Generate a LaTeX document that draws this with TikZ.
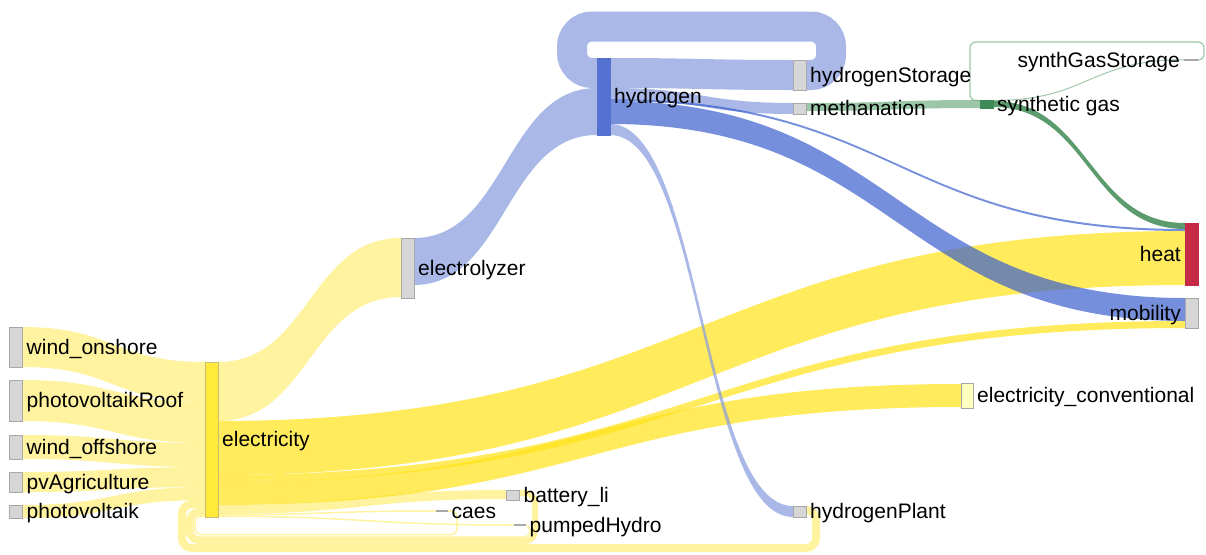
\documentclass[tikz,border=0pt]{standalone}
\usepackage{fontspec}
\setmainfont{Liberation Sans}
\usetikzlibrary{calc}

\definecolor{lyellow}{HTML}{FFEE77}
\definecolor{syellow}{HTML}{FFE216}
\definecolor{lblue}{HTML}{869ADE}
\definecolor{mblue}{HTML}{3A60CD}
\definecolor{lgreen}{HTML}{72AE83}
\definecolor{mgreen}{HTML}{167030}
\definecolor{boxfill}{HTML}{D6D6D6}
\definecolor{boxline}{HTML}{A8A8A8}

% band between two nodes: source, offset, target, offset, width, style
\newcommand\flowband[6]{%
  \fill[#6] let \p1=($(#1.north east)+(0,#2)$), \p2=($(#3.north west)+(0,#4)$),
    \p3=($(\p1)!0.5!(\p2)$) in
    (\p1) .. controls (\x3,\y1) and (\x3,\y2) .. (\p2)
    -- ($(\p2)+(0,#5)$) .. controls (\x3,\y2-#5pt) and (\x3,\y1-#5pt) .. ($(\p1)+(0,#5)$) -- cycle;}

\begin{document}
\begin{tikzpicture}[x=1pt,y=-1pt,
    every label/.style={font=\fontsize{21pt}{24pt}\selectfont,inner sep=0pt,
      text height=19.6pt,text depth=5pt},
    label distance=4pt,
    gray node/.style={rectangle,draw=boxline,fill=boxfill,line width=0.8pt,
      minimum width=13pt,inner sep=0pt,outer sep=0pt},
    thin node/.style={rectangle,fill=boxline,minimum width=12pt,minimum height=1.5pt,
      inner sep=0pt,outer sep=0pt},
    lyflow/.style={fill=lyellow,fill opacity=0.7},
    syflow/.style={fill=syellow,fill opacity=0.7},
    lbflow/.style={fill=lblue,fill opacity=0.7},
    bflow/.style={fill=mblue,fill opacity=0.7},
    lgflow/.style={fill=lgreen,fill opacity=0.7},
    gflow/.style={fill=mgreen,fill opacity=0.7},
    loopband/.style={draw opacity=0.7,rounded corners=10pt}]

  \useasboundingbox (0,0) rectangle (1206,554);

  % nodes (drawn first as coordinates, painted again on top below)
  \path
    (16,347) node[gray node,minimum height=40pt] (won) {}
    (16,400.5) node[gray node,minimum height=41pt] (pvroof) {}
    (16,447) node[gray node,minimum height=24pt] (woff) {}
    (16,482) node[gray node,minimum height=20pt] (pvagr) {}
    (16,511.5) node[gray node,minimum height=13pt] (pv) {}
    (211.5,439.5) node[gray node,minimum height=155pt] (elec) {}
    (407.5,268) node[gray node,minimum height=60pt] (elyz) {}
    (603.5,96.5) node[gray node,minimum height=77pt] (htwo) {}
    (799.5,75) node[gray node,minimum height=30pt] (hstor) {}
    (799.5,108.5) node[gray node,minimum height=11pt] (meth) {}
    (986.5,104) node[gray node,minimum height=8pt] (sgas) {}
    (1191,60) node[thin node,minimum width=14pt] (sgstor) {}
    (1191.5,254) node[gray node,minimum height=62pt] (heat) {}
    (1191.5,313) node[gray node,minimum height=30pt] (mob) {}
    (967,395.5) node[gray node,minimum width=12pt,minimum height=25pt] (econv) {}
    (513,495) node[gray node,minimum height=10pt] (batt) {}
    (441.5,511) node[thin node] (caes) {}
    (519.5,525) node[thin node] (phyd) {}
    (799.5,511.5) node[gray node,minimum height=11pt] (hplant) {};

  % electricity
  \flowband{won}{0}{elec}{0}{40}{lyflow}
  \flowband{pvroof}{0}{elec}{40}{41}{lyflow}
  \flowband{woff}{0}{elec}{81}{24}{lyflow}
  \flowband{pvagr}{0}{elec}{105}{20}{lyflow}
  \flowband{pv}{0}{elec}{125}{13}{lyflow}
  \flowband{elec}{0}{elyz}{0}{59}{lyflow}
  \flowband{elec}{143}{batt}{0}{9}{lyflow}
  \flowband{elec}{152}{caes}{0}{1.5}{lyflow}
  \flowband{elec}{153.5}{phyd}{0}{1.5}{lyflow}
  \flowband{elec}{59}{heat}{8}{54}{syflow}
  \flowband{elec}{113}{mob}{23}{7}{syflow}
  \flowband{elec}{120}{econv}{1}{23}{syflow}

  % storage back into electricity
  \draw[loopband,lyellow,line width=8pt] ($(hplant.north east)+(0,4)$) -- (816,510)
    -- (816,548) -- (182,548) -- (182,504) -- ($(elec.north west)+(0,142)$);
  \draw[loopband,lyellow,line width=6pt] ($(batt.north east)+(0,3)$) -- (535,493)
    -- (535,541) -- (189,541) -- (189,511) -- ($(elec.north west)+(0,149)$);
  \draw[loopband,lyellow,line width=1.5pt,rounded corners=6pt] (phyd.east) -- (530,525)
    -- (530,537) -- (193,537) -- (193,514.75) -- ($(elec.north west)+(0,152.75)$);
  \draw[loopband,lyellow,line width=1.5pt,rounded corners=6pt] (caes.east) -- (457,511)
    -- (457,534.5) -- (195,534.5) -- (195,516.25) -- ($(elec.north west)+(0,154.25)$);

  % hydrogen
  \draw[loopband,lblue,line width=30pt,rounded corners=20pt] ($(hstor.north east)+(0,15)$)
    -- (831,75) -- (831,26.5) -- (572,26.5) -- (572,73) -- ($(htwo.north west)+(0,15)$);
  \flowband{elyz}{0}{htwo}{30}{47}{lbflow}
  \flowband{htwo}{0}{hstor}{0}{30}{lbflow}
  \flowband{htwo}{30}{meth}{0}{11}{lbflow}
  \flowband{htwo}{41}{heat}{6}{2}{bflow}
  \flowband{htwo}{43}{mob}{0}{23}{bflow}
  \flowband{htwo}{66}{hplant}{0}{11}{lbflow}

  % synthetic gas
  \flowband{meth}{0}{sgas}{0}{8}{lgflow}
  \flowband{sgas}{0}{sgstor}{0}{1}{lgflow}
  \flowband{sgas}{1}{heat}{0}{6}{gflow}
  \draw[loopband,lgreen,line width=1.2pt,rounded corners=6pt] (sgstor.east) -- (1204,60)
    -- (1204,42) -- (970,42) -- (970,100.5) -- ($(sgas.north west)+(0,0.5)$);

  % nodes on top
  \node[gray node,minimum height=40pt,label=right:wind\_onshore] at (won) {};
  \node[gray node,minimum height=41pt,label=right:photovoltaikRoof] at (pvroof) {};
  \node[gray node,minimum height=24pt,label=right:wind\_offshore] at (woff) {};
  \node[gray node,minimum height=20pt,label=right:pvAgriculture] at (pvagr) {};
  \node[gray node,minimum height=13pt,label=right:photovoltaik] at (pv) {};
  \node[gray node,fill={rgb,255:red,255;green,233;blue,58},draw={rgb,255:red,200;green,190;blue,110},
    minimum height=155pt,label=right:electricity] at (elec) {};
  \node[gray node,minimum height=60pt,label=right:electrolyzer] at (elyz) {};
  \node[gray node,fill={rgb,255:red,84;green,112;blue,208},draw={rgb,255:red,84;green,112;blue,208},
    minimum height=77pt,label=right:hydrogen] at (htwo) {};
  \node[gray node,minimum height=30pt,label=right:hydrogenStorage] at (hstor) {};
  \node[gray node,minimum height=11pt,label=right:methanation] at (meth) {};
  \node[gray node,fill={rgb,255:red,61;green,138;blue,87},draw={rgb,255:red,61;green,138;blue,87},
    minimum height=8pt,label=right:synthetic gas] at (sgas) {};
  \node[thin node,minimum width=14pt,label=left:synthGasStorage] at (sgstor) {};
  \node[gray node,fill={rgb,255:red,197;green,43;blue,71},draw={rgb,255:red,197;green,43;blue,71},
    minimum height=62pt,label=left:heat] at (heat) {};
  \node[gray node,minimum height=30pt,label=left:mobility] at (mob) {};
  \node[gray node,fill={rgb,255:red,255;green,255;blue,192},minimum width=12pt,
    minimum height=25pt,label=right:electricity\_conventional] at (econv) {};
  \node[gray node,minimum height=10pt,label=right:battery\_li] at (batt) {};
  \node[thin node,label=right:caes] at (caes) {};
  \node[thin node,label=right:pumpedHydro] at (phyd) {};
  \node[gray node,minimum height=11pt,label=right:hydrogenPlant] at (hplant) {};
\end{tikzpicture}
\end{document}
